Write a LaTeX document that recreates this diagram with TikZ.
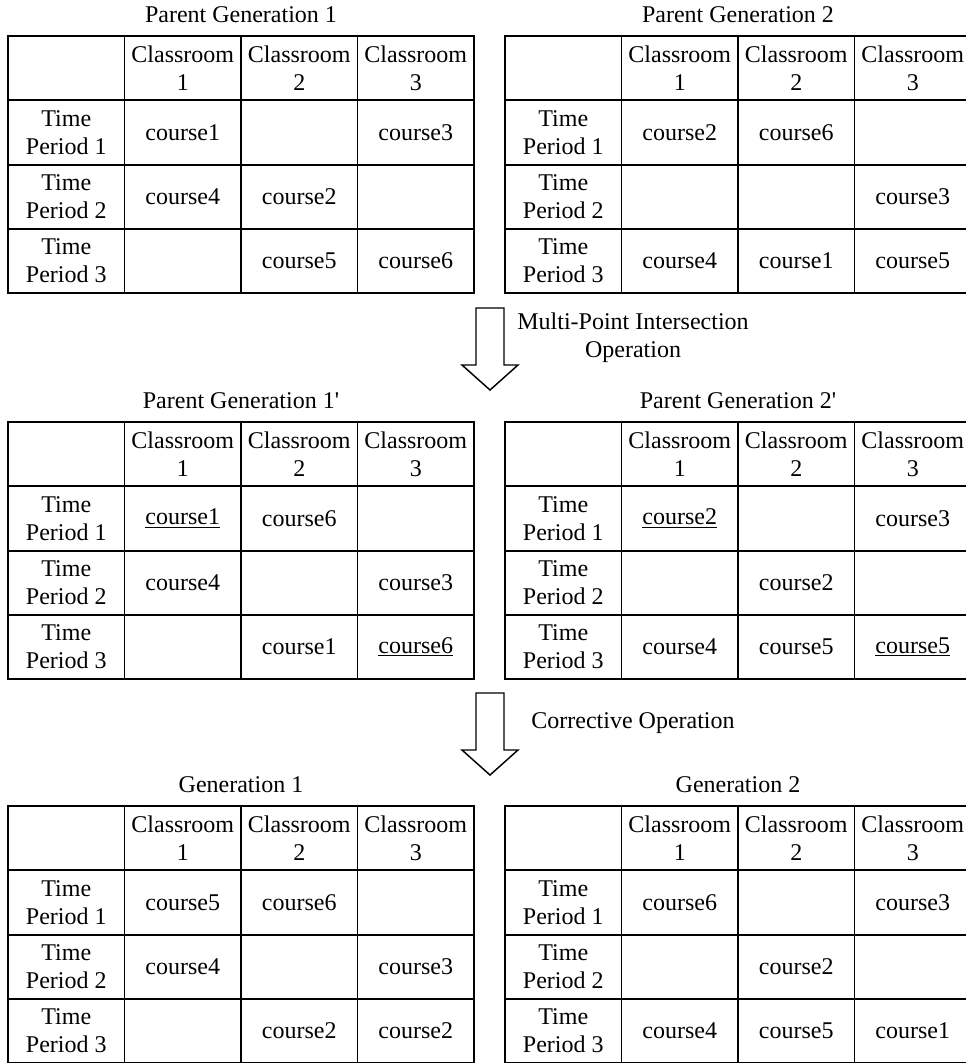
\documentclass[tikz,border=0pt]{standalone}
\usepackage{fontspec}
\newfontfamily\tsfont{Liberation Serif}

% One timetable: #1 name, #2 left x, #3 top y, #4 title, #5 rows as a/b/c
\newcommand\gentable[5]{%
  \node[txt] (#1-title) at (#2+233,#3-21) {#4};
  \draw[grid] (#2,#3) rectangle ++(466,257.2);
  \foreach \kk in {1,2,3}
    \draw[grid] (#2+116.5*\kk,#3) -- ++(0,257.2);
  \foreach \kk in {1,2,3}
    \draw[grid] (#2,#3+64.3*\kk) -- ++(466,0);
  \foreach \ci in {1,2,3}
    \node[txt] (#1-h\ci) at (#2+116.5*\ci+58.25,#3+32.15) {Classroom\\\ci};
  \foreach \pa/\pb/\pc [count=\ri] in {#5} {
    \node[txt] (#1-p\ri) at (#2+58.25,#3+32.15+64.3*\ri) {Time\\Period \ri};
    \node[txt] (#1-\ri-1) at (#2+174.75,#3+32.15+64.3*\ri) {\pa};
    \node[txt] (#1-\ri-2) at (#2+291.25,#3+32.15+64.3*\ri) {\pb};
    \node[txt] (#1-\ri-3) at (#2+407.75,#3+32.15+64.3*\ri) {\pc};
  }%
}

% Hollow down arrow: #1 name, #2 centre x, #3 top y
\newcommand\downarrowshape[3]{%
  \coordinate (#1) at (#2,#3);
  \draw[blockarrow] (#1) ++(-14,0) -- ++(28,0) -- ++(0,57) -- ++(14,0)
    -- ++(-28,25) -- ++(-28,-25) -- ++(14,0) -- cycle;
}

\begin{document}
\begin{tikzpicture}[x=0.75pt,y=-0.75pt,
  grid/.style={line width=1.4pt},
  txt/.style={font=\tsfont\fontsize{18pt}{21pt}\selectfont, align=center, inner sep=0pt},
  blockarrow/.style={draw, line width=1.1pt, line join=miter}]
\useasboundingbox (0,0) rectangle (966,1063);
\clip (0,0) rectangle (966,1063);

\gentable{pg1}{8}{36}{Parent Generation 1}{course1//course3,course4/course2/,/course5/course6}
\gentable{pg2}{505}{36}{Parent Generation 2}{course2/course6/,//course3,course4/course1/course5}

\downarrowshape{op1}{490}{308}
\node[txt] (op1-label) at (633,338) {Multi-Point Intersection\\Operation};

\gentable{pga}{8}{422}{Parent Generation 1'}{\underline{course1}/course6/,course4//course3,/course1/\underline{course6}}
\gentable{pgb}{505}{422}{Parent Generation 2'}{\underline{course2}//course3,/course2/,course4/course5/\underline{course5}}

\downarrowshape{op2}{490}{693}
\node[txt] (op2-label) at (633,723) {Corrective Operation};

\gentable{g1}{8}{806}{Generation 1}{course5/course6/,course4//course3,/course2/course2}
\gentable{g2}{505}{806}{Generation 2}{course6//course3,/course2/,course4/course5/course1}
\end{tikzpicture}
\end{document}
